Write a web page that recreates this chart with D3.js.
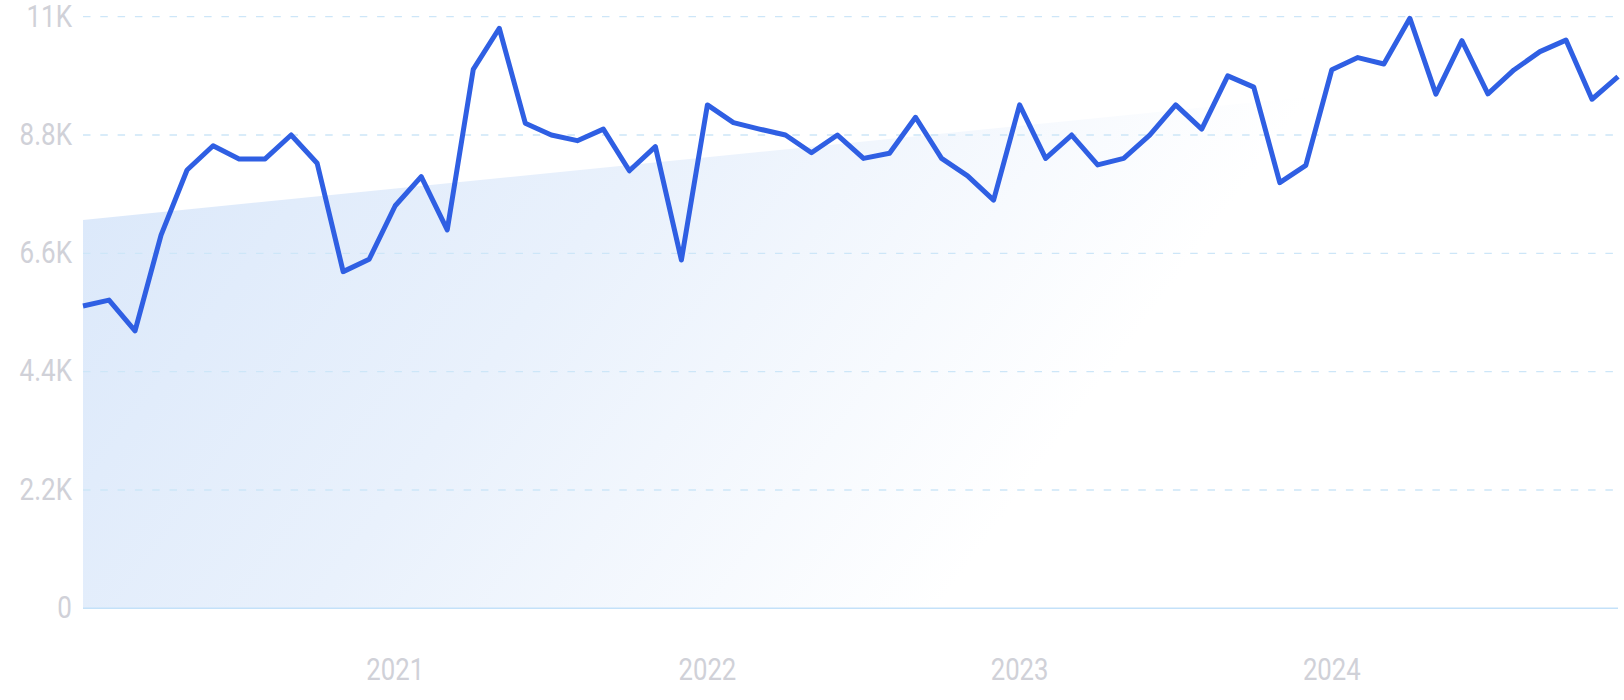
<!DOCTYPE html>
<html>
<head>
<meta charset="utf-8">
<script src="https://cdn.jsdelivr.net/npm/d3@7"></script>
<style>
  html, body { margin: 0; padding: 0; background: #ffffff; }
  svg { display: block; }
</style>
</head>
<body>
<svg id="chart" width="1624" height="700"></svg>
<script>
// ---- data (monthly, Jan 2020 .. Dec 2024) ----
const months = [];
for (let yr = 2020; yr <= 2024; yr++) for (let m = 1; m <= 12; m++) months.push(yr + "-" + String(m).padStart(2, "0"));

const values = [
  5620, 5730, 5160, 6940, 8150, 8600, 8355, 8355, 8800, 8275, 6260, 6490,
  7485, 8025, 7035, 10020, 10785, 9020, 8800, 8695, 8910, 8135, 8585, 6475,
  9360, 9030, 8910, 8800, 8470, 8800, 8365, 8460, 9130, 8365, 8040, 7590,
  9360, 8365, 8800, 8245, 8365, 8800, 9360, 8910, 9900, 9690, 7915, 8235,
  10015, 10240, 10120, 10970, 9560, 10555, 9565, 10010, 10350, 10565, 9465, 9885
];

// trend line endpoints (first month, last month)
const trendValues = [7220, 10090];

const yTicks = [0, 2200, 4400, 6600, 8800, 11000];
const yTickLabels = ["0", "2.2K", "4.4K", "6.6K", "8.8K", "11K"];
const xTickMonths = ["2021-01", "2022-01", "2023-01", "2024-01"];
const xTickLabels = ["2021", "2022", "2023", "2024"];

// ---- layout ----
const svg = d3.select("#chart");
const mLeft = 83, mRight = 1618, mTop = 16.7, mBottom = 608.3;
const FONT = "Roboto, 'DejaVu Sans Condensed', sans-serif";
const TXT = "#d0d1d8";

const x = d3.scalePoint().domain(months).range([mLeft, mRight]);
const y = d3.scaleLinear().domain([0, 11000]).range([mBottom, mTop]);

const defs = svg.append("defs");
const grad = defs.append("linearGradient")
  .attr("id", "areaGrad")
  .attr("gradientUnits", "userSpaceOnUse")
  .attr("x1", 83).attr("y1", 66).attr("x2", 900).attr("y2", 660);
grad.append("stop").attr("offset", "0").attr("stop-color", "#d9e7fa");
grad.append("stop").attr("offset", "0.5").attr("stop-color", "#e9f1fc");
grad.append("stop").attr("offset", "1").attr("stop-color", "#ffffff");

// trend area
const trendPts = [
  { m: months[0], v: trendValues[0] },
  { m: months[months.length - 1], v: trendValues[1] }
];
const area = d3.area().x(d => x(d.m)).y0(y(0)).y1(d => y(d.v));
svg.append("path").datum(trendPts).attr("d", area).attr("fill", "url(#areaGrad)");

// grid lines
svg.append("g").selectAll("line")
  .data(yTicks.filter(t => t > 0))
  .join("line")
  .attr("x1", mLeft).attr("x2", mRight - 5)
  .attr("y1", d => y(d)).attr("y2", d => y(d))
  .attr("stroke", "#cde6f8").attr("stroke-width", 1.3)
  .attr("stroke-dasharray", "7.5,9.8");

// baseline
svg.append("line")
  .attr("x1", mLeft).attr("x2", mRight)
  .attr("y1", y(0)).attr("y2", y(0))
  .attr("stroke", "#c4e1f9").attr("stroke-width", 1.5);

// y labels
svg.append("g").selectAll("text")
  .data(yTicks)
  .join("text")
  .attr("transform", d => `translate(72,${y(d) - 1.5 + 11.3}) scale(0.84,1)`)
  .attr("text-anchor", "end")
  .attr("font-family", FONT)
  .attr("font-size", 31)
  .attr("fill", TXT)
  .text((d, i) => yTickLabels[i]);

// x labels
svg.append("g").selectAll("text")
  .data(xTickMonths)
  .join("text")
  .attr("transform", d => `translate(${x(d)},679.5) scale(0.83,1)`)
  .attr("text-anchor", "middle")
  .attr("font-family", FONT)
  .attr("font-size", 31)
  .attr("fill", TXT)
  .text((d, i) => xTickLabels[i]);

// line
const line = d3.line().x((d, i) => x(months[i])).y(d => y(d));
svg.append("path").datum(values)
  .attr("d", line)
  .attr("fill", "none")
  .attr("stroke", "#2f5fe3")
  .attr("stroke-width", 5)
  .attr("stroke-linejoin", "round")
  .attr("stroke-linecap", "butt");
</script>
</body>
</html>
